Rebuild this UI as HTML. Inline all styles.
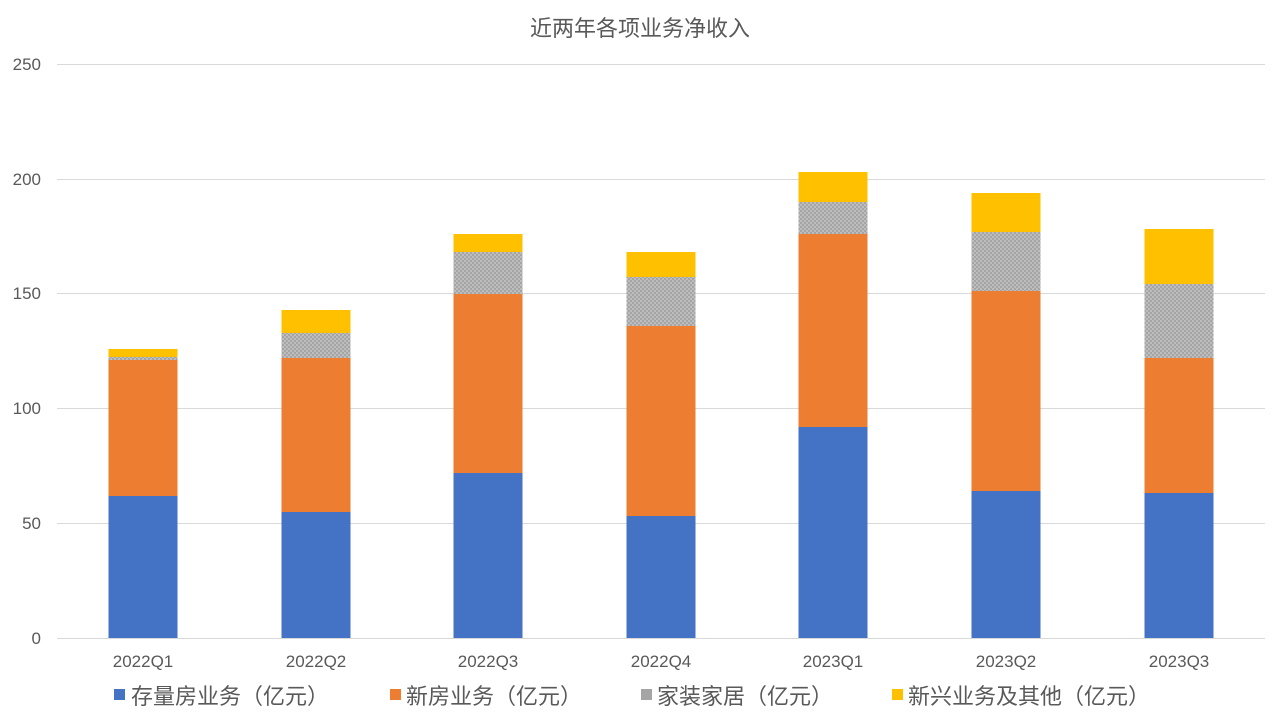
<!DOCTYPE html>
<html><head><meta charset="utf-8"><style>
body{margin:0;background:#fff;width:1280px;height:720px;overflow:hidden}
svg{display:block}
text{font-family:"Liberation Sans","Noto Sans CJK SC",sans-serif;fill:#595959}
</style></head><body>
<svg width="1280" height="720" viewBox="0 0 1280 720">
<defs>
<pattern id="h" width="4" height="4" patternUnits="userSpaceOnUse">
<rect width="4" height="4" fill="#a5a5a5"/><rect width="2" height="2" fill="#bdbdbd"/><rect x="2" y="2" width="2" height="2" fill="#bdbdbd"/>
</pattern>
</defs>
<text x="640" y="36" font-size="22" text-anchor="middle">近两年各项业务净收入</text>
<g stroke="#d9d9d9" stroke-width="1">
<line x1="57" y1="64.5" x2="1265" y2="64.5"/>
<line x1="57" y1="179.5" x2="1265" y2="179.5"/>
<line x1="57" y1="293.5" x2="1265" y2="293.5"/>
<line x1="57" y1="408.5" x2="1265" y2="408.5"/>
<line x1="57" y1="523.5" x2="1265" y2="523.5"/>
<line x1="57" y1="638.5" x2="1265" y2="638.5"/>
</g>
<g font-size="17" text-anchor="end">
<text x="41" y="70">250</text><text x="41" y="185">200</text><text x="41" y="299">150</text>
<text x="41" y="414">100</text><text x="41" y="529">50</text><text x="41" y="644">0</text>
</g>
<g>
<rect x="108.5" y="496" width="69" height="142" fill="#4472c4"/><rect x="108.5" y="360" width="69" height="136" fill="#ed7d31"/><rect x="108.5" y="357" width="69" height="3" fill="url(#h)"/><rect x="108.5" y="349" width="69" height="8" fill="#ffc000"/>
<rect x="281.5" y="512" width="69" height="126" fill="#4472c4"/><rect x="281.5" y="358" width="69" height="154" fill="#ed7d31"/><rect x="281.5" y="333" width="69" height="25" fill="url(#h)"/><rect x="281.5" y="310" width="69" height="23" fill="#ffc000"/>
<rect x="453.5" y="473" width="69" height="165" fill="#4472c4"/><rect x="453.5" y="294" width="69" height="179" fill="#ed7d31"/><rect x="453.5" y="252" width="69" height="42" fill="url(#h)"/><rect x="453.5" y="234" width="69" height="18" fill="#ffc000"/>
<rect x="626.5" y="516" width="69" height="122" fill="#4472c4"/><rect x="626.5" y="326" width="69" height="190" fill="#ed7d31"/><rect x="626.5" y="277" width="69" height="49" fill="url(#h)"/><rect x="626.5" y="252" width="69" height="25" fill="#ffc000"/>
<rect x="798.5" y="427" width="69" height="211" fill="#4472c4"/><rect x="798.5" y="234" width="69" height="193" fill="#ed7d31"/><rect x="798.5" y="202" width="69" height="32" fill="url(#h)"/><rect x="798.5" y="172" width="69" height="30" fill="#ffc000"/>
<rect x="971.5" y="491" width="69" height="147" fill="#4472c4"/><rect x="971.5" y="291" width="69" height="200" fill="#ed7d31"/><rect x="971.5" y="232" width="69" height="59" fill="url(#h)"/><rect x="971.5" y="193" width="69" height="39" fill="#ffc000"/>
<rect x="1144.5" y="493" width="69" height="145" fill="#4472c4"/><rect x="1144.5" y="358" width="69" height="135" fill="#ed7d31"/><rect x="1144.5" y="284" width="69" height="74" fill="url(#h)"/><rect x="1144.5" y="229" width="69" height="55" fill="#ffc000"/>
</g>
<g font-size="17" text-anchor="middle">
<text x="143" y="667">2022Q1</text><text x="316" y="667">2022Q2</text><text x="488" y="667">2022Q3</text><text x="661" y="667">2022Q4</text>
<text x="833" y="667">2023Q1</text><text x="1006" y="667">2023Q2</text><text x="1179" y="667">2023Q3</text>
</g>
<g font-size="22">
<rect x="114" y="689" width="11" height="11" fill="#4472c4"/><text x="131" y="704">存量房业务（亿元）</text>
<rect x="390" y="689" width="11" height="11" fill="#ed7d31"/><text x="406" y="704">新房业务（亿元）</text>
<rect x="641" y="689" width="11" height="11" fill="#a5a5a5"/><text x="657" y="704">家装家居（亿元）</text>
<rect x="892" y="689" width="11" height="11" fill="#ffc000"/><text x="908" y="704">新兴业务及其他（亿元）</text>
</g>
</svg>
</body></html>
